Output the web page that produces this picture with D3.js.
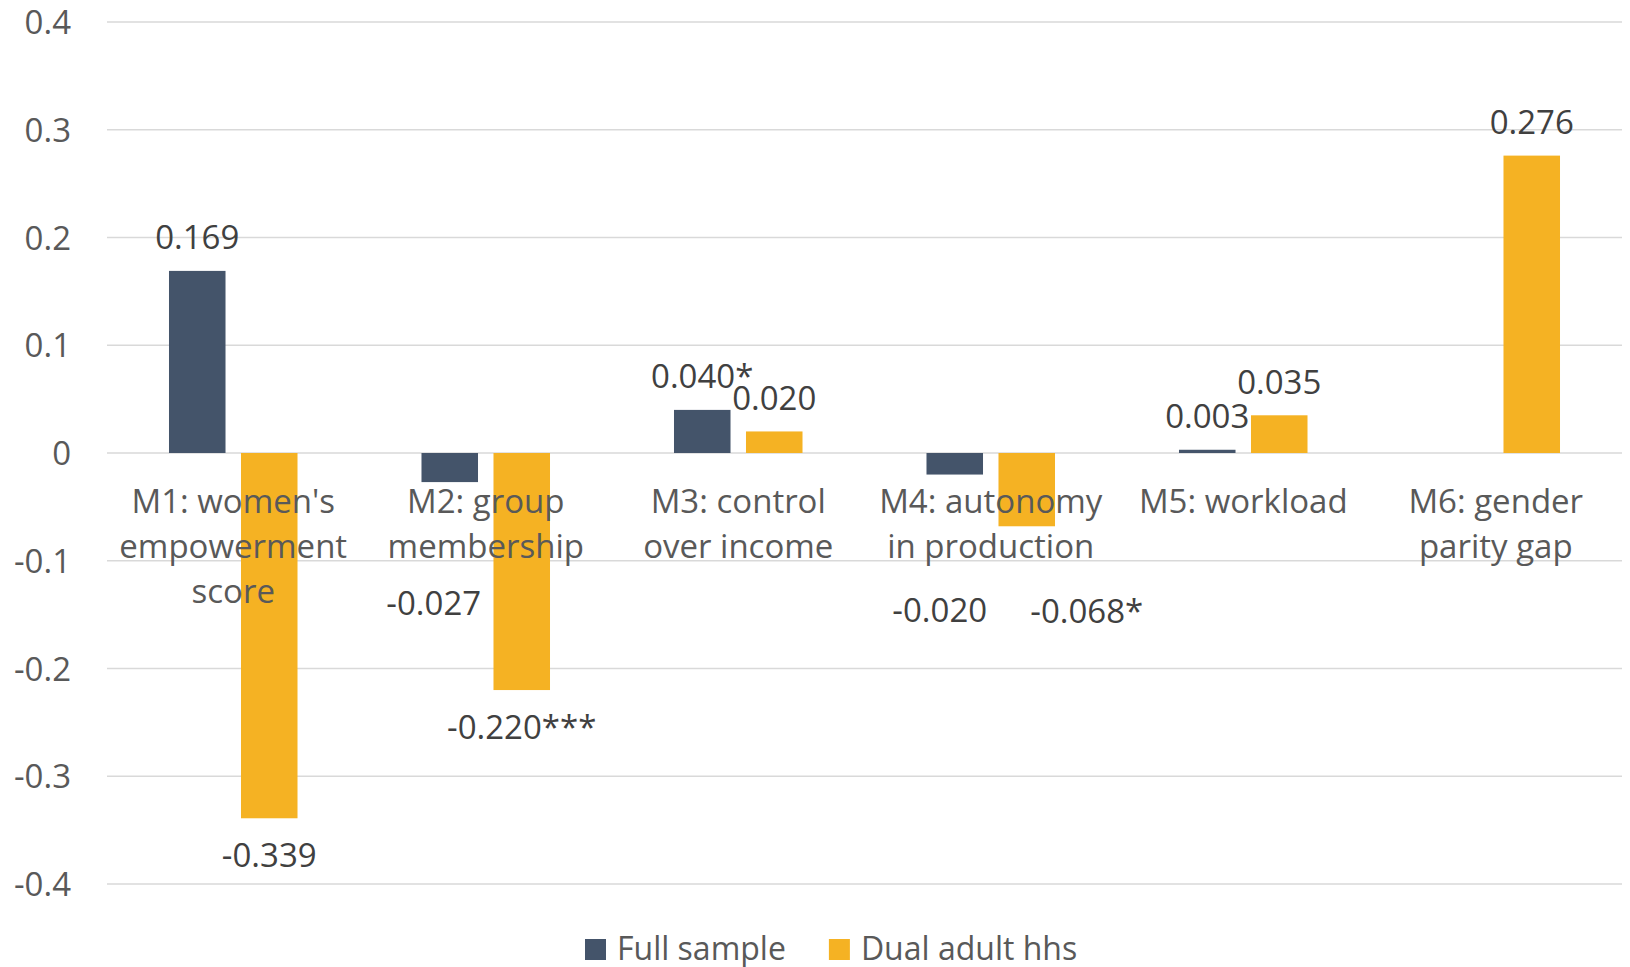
<!DOCTYPE html>
<html>
<head>
<meta charset="utf-8">
<script src="https://cdn.jsdelivr.net/npm/d3@7"></script>
<style>
  html, body { margin: 0; padding: 0; background: #ffffff; }
  svg { display: block; font-family: "Open Sans", "Noto Sans", sans-serif; }
</style>
</head>
<body>
<svg id="chart" width="1630" height="967"></svg>
<script>
// Effect estimates by empowerment indicator
const categories = [
  "M1: women's empowerment score",
  "M2: group membership",
  "M3: control over income",
  "M4: autonomy in production",
  "M5: workload",
  "M6: gender parity gap"
];
const seriesNames = ["Full sample", "Dual adult hhs"];
const fullSample = [0.169, -0.027, 0.040, -0.020, 0.003, null];
const dualAdultHhs = [-0.339, -0.220, 0.020, -0.068, 0.035, 0.276];
// significance markers appended to the value labels
const fullSampleStars = ["", "", "*", "", "", ""];
const dualAdultStars = ["", "***", "", "*", "", ""];
const yTicks = [0.4, 0.3, 0.2, 0.1, 0, -0.1, -0.2, -0.3, -0.4];
const seriesColors = ["#44546A", "#F5B223"];

// manually moved value labels (category index, series index) -> [dx, dy]
const labelNudges = [
  { cat: 1, series: 0, dx: -16, dy: 84 },
  { cat: 3, series: 0, dx: -15, dy: 99 },
  { cat: 3, series: 1, dx: 60, dy: 48 }
];

// plain hyphen for negative numbers
const fmtLocale = d3.formatLocale({ decimal: ".", thousands: ",", grouping: [3], currency: ["", ""], minus: "-" });
const fmt3 = fmtLocale.format(".3f");
const fmt1 = fmtLocale.format(".1f");

const svg = d3.select("#chart");
const fontSize = 33;

const x0 = d3.scaleBand().domain(categories).range([107, 1622]);
const x1 = d3.scaleBand().domain(seriesNames)
  .range([0, x0.bandwidth()])
  .paddingInner(0.215)
  .paddingOuter(0.861);
const y = d3.scaleLinear().domain([-0.4, 0.4]).range([884, 22]);

// value ticks
const yAxis = d3.axisLeft(y).tickValues(yTicks).tickSize(0).tickPadding(0)
  .tickFormat(d => d === 0 ? "0" : fmt1(d));
const gAxis = svg.append("g").attr("transform", "translate(71,0)").call(yAxis);
gAxis.select(".domain").remove();
gAxis.selectAll("text")
  .attr("x", 0).attr("dy", null).attr("y", 11.5)
  .attr("fill", "#595959")
  .style("font-size", fontSize + "px")
  .style("font-family", "'Open Sans', sans-serif");

// gridlines
svg.append("g").selectAll("line").data(yTicks).join("line")
  .attr("x1", x0.range()[0]).attr("x2", x0.range()[1])
  .attr("y1", d => y(d)).attr("y2", d => y(d))
  .attr("stroke", "#D9D9D9").attr("stroke-width", 1.5);

// bars
const rows = categories.map((c, i) => ({
  cat: c, idx: i,
  values: [
    { s: 0, name: seriesNames[0], v: fullSample[i], star: fullSampleStars[i] },
    { s: 1, name: seriesNames[1], v: dualAdultHhs[i], star: dualAdultStars[i] }
  ]
}));

const groups = svg.append("g").selectAll("g").data(rows).join("g")
  .attr("transform", d => `translate(${x0(d.cat)},0)`);

groups.selectAll("rect")
  .data(d => d.values.filter(v => v.v !== null))
  .join("rect")
  .attr("x", d => x1(d.name))
  .attr("width", x1.bandwidth())
  .attr("y", d => y(Math.max(0, d.v)))
  .attr("height", d => Math.abs(y(d.v) - y(0)))
  .attr("fill", d => seriesColors[d.s]);

// category labels, wrapped to the band width
const catLayer = svg.append("g");
const maxLine = 242;
categories.forEach(cat => {
  const t = catLayer.append("text")
    .attr("text-anchor", "middle")
    .attr("fill", "#595959")
    .style("font-size", fontSize + "px");
  const cx = x0(cat) + x0.bandwidth() / 2;
  const words = cat.split(" ");
  const lines = [];
  let line = [];
  const probe = t.append("tspan");
  words.forEach(w => {
    probe.text(line.concat([w]).join(" "));
    if (probe.node().getComputedTextLength() > maxLine && line.length) {
      lines.push(line.join(" "));
      line = [w];
    } else {
      line.push(w);
    }
  });
  lines.push(line.join(" "));
  probe.remove();
  lines.forEach((ln, i) => {
    t.append("tspan").attr("x", cx).attr("y", 513 + i * 45).text(ln);
  });
});

// value labels
groups.each(function (row) {
  const g = d3.select(this);
  row.values.filter(v => v.v !== null).forEach(v => {
    const nudge = labelNudges.find(n => n.cat === row.idx && n.series === v.s) || { dx: 0, dy: 0 };
    const cx = x1(v.name) + x1.bandwidth() / 2 + nudge.dx;
    const base = v.v >= 0 ? y(v.v) - 21.5 : y(v.v) + 48.5;
    g.append("text")
      .attr("x", cx)
      .attr("y", base + nudge.dy)
      .attr("text-anchor", "middle")
      .attr("fill", "#404040")
      .style("font-size", fontSize + "px")
      .text(fmt3(v.v) + v.star);
  });
});

// legend
const legend = svg.append("g");
let lx = 585;
seriesNames.forEach((name, i) => {
  legend.append("rect")
    .attr("x", lx).attr("y", 939).attr("width", 21).attr("height", 21)
    .attr("fill", seriesColors[i]);
  const t = legend.append("text")
    .attr("x", lx + 32).attr("y", 960)
    .attr("fill", "#595959")
    .style("font-size", "32px")
    .text(name);
  lx += 32 + t.node().getComputedTextLength() + 43;
});
</script>
</body>
</html>
